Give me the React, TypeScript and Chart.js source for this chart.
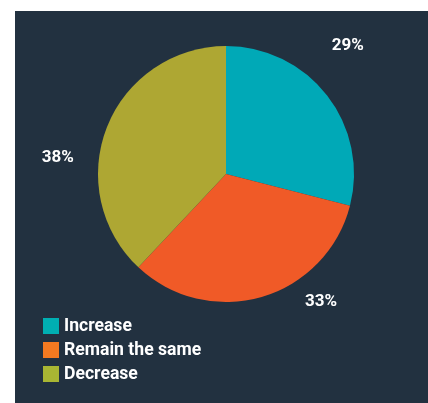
import React, { useEffect, useRef } from "react";
import { Chart, registerables } from "chart.js";

Chart.register(...registerables);

const categories = ["Increase", "Remain the same", "Decrease"];
const shares = [29, 33, 38];
const sliceColors = ["#00A9B7", "#F05A27", "#AEA733"];
const legendColors = ["#00AFB2", "#F47A21", "#A9B633"];
// label placement tweaks: [angle offset in degrees, radius factor]
const labelPlacement = [
  [-8.6, 1.38],
  [-20.4, 1.245],
  [-16.2, 1.32],
];

const PANEL = "#223140";

const labelPlugin = {
  id: "outerLabels",
  afterDatasetsDraw(chart: any) {
    const ctx = chart.ctx;
    const meta = chart.getDatasetMeta(0);
    ctx.save();
    ctx.fillStyle = "#ffffff";
    ctx.font = "bold 17px Roboto";
    ctx.textAlign = "center";
    ctx.textBaseline = "middle";
    meta.data.forEach((arc: any, i: number) => {
      const p = arc.getProps(["x", "y", "startAngle", "endAngle", "outerRadius"], true);
      const mid = (p.startAngle + p.endAngle) / 2 + (labelPlacement[i][0] * Math.PI) / 180;
      const r = p.outerRadius * labelPlacement[i][1];
      const v = chart.data.datasets[0].data[i];
      ctx.fillText(v + "%", p.x + Math.cos(mid) * r, p.y + Math.sin(mid) * r);
    });
    ctx.restore();
  },
};

const legendPlugin = {
  id: "stackLegend",
  afterDraw(chart: any) {
    const ctx = chart.ctx;
    ctx.save();
    ctx.font = "bold 17.6px Roboto";
    ctx.textBaseline = "middle";
    ctx.textAlign = "left";
    const x0 = 28;
    const y0 = 307;
    const row = 24;
    const box = 16;
    chart.data.labels.forEach((lab: string, i: number) => {
      const y = y0 + i * row;
      ctx.fillStyle = legendColors[i];
      ctx.fillRect(x0, y, box, box);
      ctx.fillStyle = "#ffffff";
      ctx.fillText(lab, x0 + box + 5, y + box / 2 + 1);
    });
    ctx.restore();
  },
};

export default function App() {
  const ref = useRef<HTMLCanvasElement | null>(null);
  useEffect(() => {
    document.body.style.margin = "0";
    const chart = new Chart(ref.current as HTMLCanvasElement, {
      type: "pie",
      data: {
        labels: categories,
        datasets: [
          {
            data: shares,
            backgroundColor: sliceColors,
            borderWidth: 0,
          },
        ],
      },
      options: {
        animation: false,
        responsive: false,
        layout: { padding: { top: 35, left: 83, right: 74, bottom: 101 } },
        plugins: {
          legend: { display: false },
          tooltip: { enabled: false },
        },
      },
      plugins: [labelPlugin, legendPlugin],
    });
    return () => chart.destroy();
  }, []);
  return (
    <div style={{ position: "relative", width: 428, height: 403, background: "#ffffff" }}>
      <div style={{ position: "absolute", left: 15, top: 11, width: 413, height: 392, background: PANEL }}>
        <canvas ref={ref} width={413} height={392} style={{ display: "block" }} />
      </div>
    </div>
  );
}
